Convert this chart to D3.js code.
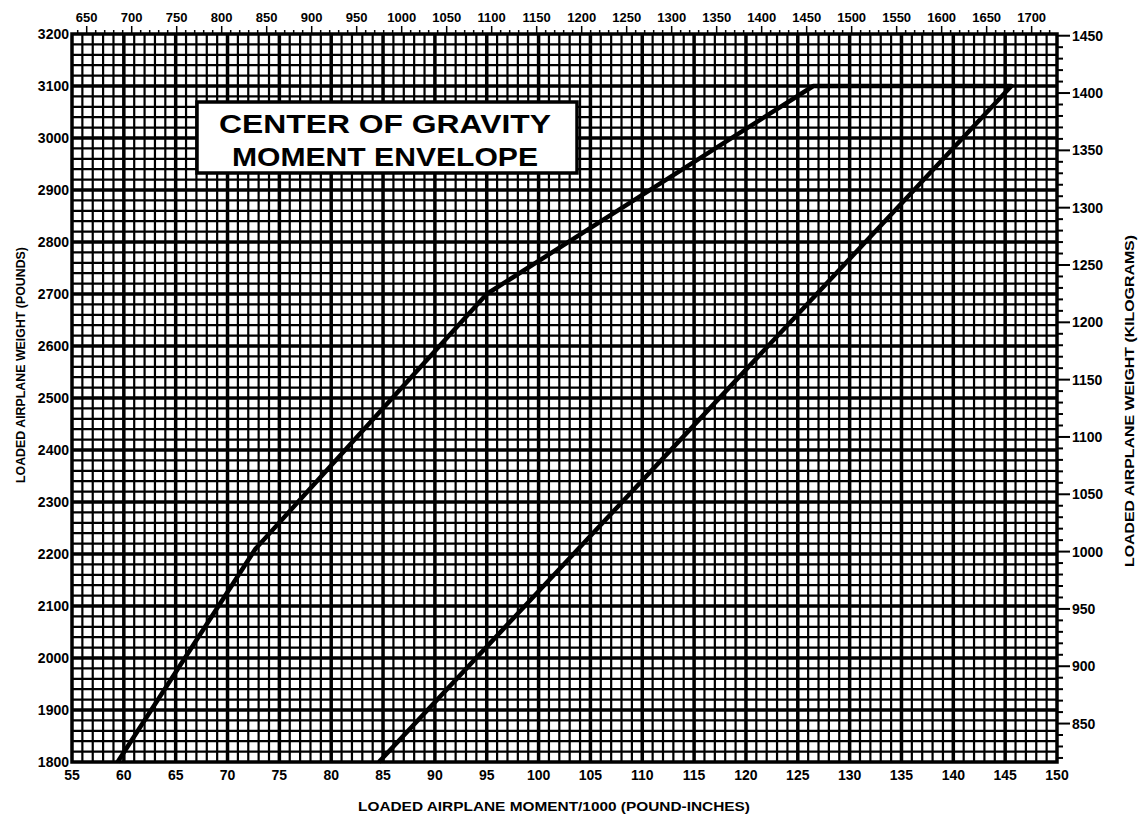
<!DOCTYPE html>
<html>
<head>
<meta charset="utf-8">
<script src="https://cdn.jsdelivr.net/npm/d3@7"></script>
<style>
  body { margin: 0; background: #fff; }
  text { font-family: "Liberation Sans", Arial, sans-serif; font-weight: bold; fill: #000; }
</style>
</head>
<body>
<div id="vis1"></div>
<script>
// envelope data (moment/1000 lb-in, weight lb)
const FWD_MOMENT = [59.4, 72.7, 95, 126.5];
const FWD_WEIGHT = [1800, 2210, 2700, 3100];
const AFT_MOMENT = [145.6, 84.6];
const AFT_WEIGHT = [3100, 1800];

// tick labels
const BOTTOM_TICKS = [55, 60, 65, 70, 75, 80, 85, 90, 95, 100, 105, 110, 115, 120, 125, 130, 135, 140, 145, 150];
const LEFT_TICKS = [1800, 1900, 2000, 2100, 2200, 2300, 2400, 2500, 2600, 2700, 2800, 2900, 3000, 3100, 3200];
const TOP_TICKS = [650, 700, 750, 800, 850, 900, 950, 1000, 1050, 1100, 1150, 1200, 1250, 1300, 1350, 1400, 1450, 1500, 1550, 1600, 1650, 1700];
const RIGHT_TICKS = [850, 900, 950, 1000, 1050, 1100, 1150, 1200, 1250, 1300, 1350, 1400, 1450];

const TITLE_LINES = ["CENTER OF GRAVITY", "MOMENT ENVELOPE"];

// frame
const FRAME_WIDTH = 1140;
const FRAME_HEIGHT = 817;
const MARGINS = {left: 72, right: 83, top: 34, bottom: 55};
const VIS_WIDTH = FRAME_WIDTH - MARGINS.left - MARGINS.right;
const VIS_HEIGHT = FRAME_HEIGHT - MARGINS.top - MARGINS.bottom;

// unit conversions for the secondary axes
const LB_PER_KG = 2.20462;
const KGMM_PER_LBIN = 0.45359237 * 25.4;

const FRAME1 = d3.select("#vis1")
  .append("svg")
  .attr("width", FRAME_WIDTH)
  .attr("height", FRAME_HEIGHT);

const X_SCALE = d3.scaleLinear().domain([55, 150]).range([0, VIS_WIDTH]);
const Y_SCALE = d3.scaleLinear().domain([1800, 3200]).range([VIS_HEIGHT, 0]);
const X_TOP = d3.scaleLinear()
  .domain([55 * KGMM_PER_LBIN, 150 * KGMM_PER_LBIN]).range([0, VIS_WIDTH]);
const Y_RIGHT = d3.scaleLinear()
  .domain([1800 / LB_PER_KG, 3200 / LB_PER_KG]).range([VIS_HEIGHT, 0]);

const PLOT = FRAME1.append("g")
  .attr("transform", "translate(" + MARGINS.left + "," + MARGINS.top + ")");

// grid, every 1 unit of moment and every 20 lb, heavier every 5 / 100
const GRID = PLOT.append("g").attr("stroke", "#000");

GRID.selectAll("line.v")
  .data(d3.range(56, 150, 1))
  .enter().append("line")
  .attr("class", "v")
  .attr("x1", (d) => X_SCALE(d)).attr("x2", (d) => X_SCALE(d))
  .attr("y1", 0).attr("y2", VIS_HEIGHT)
  .attr("stroke-width", (d) => d % 5 == 0 ? 3.5 : 2.2);

GRID.selectAll("line.h")
  .data(d3.range(1820, 3200, 20))
  .enter().append("line")
  .attr("class", "h")
  .attr("y1", (d) => Y_SCALE(d)).attr("y2", (d) => Y_SCALE(d))
  .attr("x1", 0).attr("x2", VIS_WIDTH)
  .attr("stroke-width", (d) => d % 100 == 0 ? 3.5 : 2.2);

PLOT.append("rect")
  .attr("width", VIS_WIDTH).attr("height", VIS_HEIGHT)
  .attr("fill", "none").attr("stroke", "#000").attr("stroke-width", 3.5);

// bottom axis labels
PLOT.append("g").selectAll("text")
  .data(BOTTOM_TICKS)
  .enter().append("text")
  .attr("x", (d) => X_SCALE(d))
  .attr("y", VIS_HEIGHT + 18)
  .attr("text-anchor", "middle")
  .attr("font-size", 14)
  .text((d) => d);

// left axis labels
PLOT.append("g").selectAll("text")
  .data(LEFT_TICKS)
  .enter().append("text")
  .attr("x", -3)
  .attr("y", (d) => Y_SCALE(d) + 5)
  .attr("text-anchor", "end")
  .attr("font-size", 14)
  .text((d) => d);

// top axis (kg-mm / 1000)
const TOP_AXIS = PLOT.append("g");
TOP_AXIS.selectAll("line")
  .data(d3.range(640, 1730, 10))
  .enter().append("line")
  .attr("x1", (d) => X_TOP(d)).attr("x2", (d) => X_TOP(d))
  .attr("y1", 0).attr("y2", (d) => d % 50 == 0 ? -8 : -4)
  .attr("stroke", "#000").attr("stroke-width", 1.5);
TOP_AXIS.selectAll("text")
  .data(TOP_TICKS)
  .enter().append("text")
  .attr("x", (d) => X_TOP(d))
  .attr("y", -12)
  .attr("text-anchor", "middle")
  .attr("font-size", 13)
  .text((d) => d);

// right axis (kilograms)
const RIGHT_AXIS = PLOT.append("g");
RIGHT_AXIS.selectAll("line")
  .data(d3.range(820, 1451, 10))
  .enter().append("line")
  .attr("y1", (d) => Y_RIGHT(d)).attr("y2", (d) => Y_RIGHT(d))
  .attr("x1", VIS_WIDTH).attr("x2", (d) => VIS_WIDTH + (d % 50 == 0 ? 13 : 6))
  .attr("stroke", "#000").attr("stroke-width", 2);
RIGHT_AXIS.selectAll("text")
  .data(RIGHT_TICKS)
  .enter().append("text")
  .attr("x", VIS_WIDTH + 15)
  .attr("y", (d) => Y_RIGHT(d) + 5)
  .attr("font-size", 14)
  .text((d) => d);

// envelope
const ENVELOPE = FWD_MOMENT.map((m, i) => [m, FWD_WEIGHT[i]])
  .concat(AFT_MOMENT.map((m, i) => [m, AFT_WEIGHT[i]]));

PLOT.append("path")
  .datum(ENVELOPE)
  .attr("fill", "none")
  .attr("stroke", "#000")
  .attr("stroke-width", 4.5)
  .attr("stroke-linejoin", "round")
  .attr("d", d3.line().x((d) => X_SCALE(d[0])).y((d) => Y_SCALE(d[1])));

// title box
const TITLE = FRAME1.append("g");
TITLE.append("rect")
  .attr("x", 197).attr("y", 102)
  .attr("width", 380).attr("height", 71)
  .attr("fill", "#fff").attr("stroke", "#000").attr("stroke-width", 3.5);
TITLE.selectAll("text")
  .data(TITLE_LINES)
  .enter().append("text")
  .attr("x", 385)
  .attr("y", (d, i) => 133 + i * 33)
  .attr("text-anchor", "middle")
  .attr("font-size", 25)
  .attr("textLength", (d, i) => i == 0 ? 332 : 306)
  .attr("lengthAdjust", "spacingAndGlyphs")
  .text((d) => d);

// axis titles
FRAME1.append("text")
  .attr("x", 554).attr("y", 811)
  .attr("text-anchor", "middle")
  .attr("font-size", 13.5)
  .attr("textLength", 392)
  .attr("lengthAdjust", "spacingAndGlyphs")
  .text("LOADED AIRPLANE MOMENT/1000 (POUND-INCHES)");

FRAME1.append("text")
  .attr("transform", "translate(25,365) rotate(-90)")
  .attr("text-anchor", "middle")
  .attr("font-size", 13)
  .attr("textLength", 236)
  .attr("lengthAdjust", "spacingAndGlyphs")
  .text("LOADED AIRPLANE WEIGHT (POUNDS)");

FRAME1.append("text")
  .attr("transform", "translate(1134,401) rotate(-90)")
  .attr("text-anchor", "middle")
  .attr("font-size", 13)
  .attr("textLength", 332)
  .attr("lengthAdjust", "spacingAndGlyphs")
  .text("LOADED AIRPLANE WEIGHT (KILOGRAMS)");
</script>
</body>
</html>
